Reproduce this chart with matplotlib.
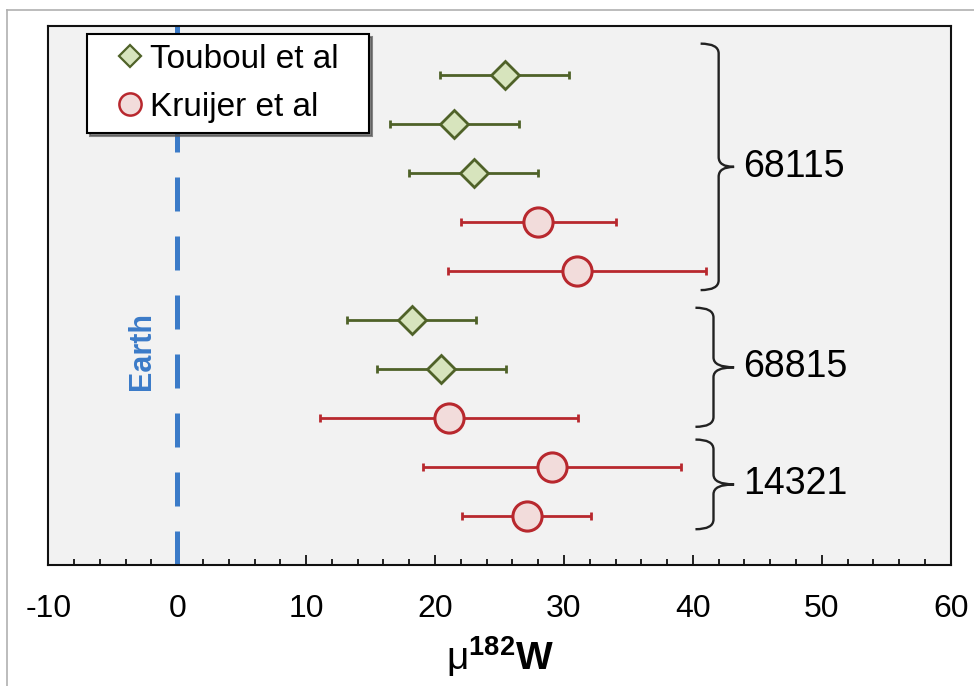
import matplotlib
matplotlib.use('Agg')
import matplotlib.pyplot as plt
from matplotlib.path import Path
from matplotlib.patches import PathPatch
from matplotlib.lines import Line2D

plt.rcParams['font.family'] = ['Liberation Sans', 'DejaVu Sans']
plt.rcParams['mathtext.fontset'] = 'custom'
plt.rcParams['mathtext.rm'] = 'Liberation Sans'
plt.rcParams['mathtext.it'] = 'Liberation Sans'
plt.rcParams['mathtext.bf'] = 'Liberation Sans:bold'
plt.rcParams['axes.unicode_minus'] = False

# 데이터
tou_rows = [1, 2, 3, 6, 7]
tou_vals = [25.4, 21.5, 23.0, 18.2, 20.5]
tou_err = [5.0, 5.0, 5.0, 5.0, 5.0]

kru_rows = [4, 5, 8, 9, 10]
kru_vals = [28.0, 31.0, 21.1, 29.1, 27.1]
kru_err = [6.0, 10.0, 10.0, 10.0, 5.0]

groups = ['68115', '68815', '14321']
group_spans = [(0.36, 5.39), (5.75, 8.18), (8.44, 10.27)]

earth_x = 0
xticks = [-10, 0, 10, 20, 30, 40, 50, 60]

green_edge = '#4f6228'
green_face = '#d7e4bd'
red_edge = '#b8282e'
red_face = '#f2dcdb'
blue = '#3b7bc8'

fig = plt.figure(figsize=(9.74, 6.86), dpi=100)
ax = fig.add_axes([48.3 / 974, 1 - 565 / 686, 902.4 / 974, 539 / 686])
ax.set_facecolor('#f2f2f2')

# 바깥 테두리
fig.add_artist(Line2D([7 / 974, 7 / 974], [0, 1 - 10 / 686], color='#b0b0b0', lw=1.2))
fig.add_artist(Line2D([7 / 974, 1], [1 - 10 / 686, 1 - 10 / 686], color='#b0b0b0', lw=1.2))

# Earth 선
ax.plot([earth_x, earth_x], [11, 0], color=blue, lw=3.6, linestyle=(0, (6.8, 5)), zorder=2)
ax.text(-2.7, 6.64, 'Earth', rotation=90, color=blue, fontsize=22, fontweight='bold',
        ha='center', va='center')

ax.errorbar(tou_vals, tou_rows, xerr=tou_err, fmt='none', ecolor=green_edge,
            elinewidth=2.0, capsize=3, capthick=2.0, zorder=3)
ax.plot(tou_vals, tou_rows, 'D', ms=14, mfc=green_face, mec=green_edge, mew=2.0, zorder=4)

ax.errorbar(kru_vals, kru_rows, xerr=kru_err, fmt='none', ecolor=red_edge,
            elinewidth=2.0, capsize=3, capthick=2.0, zorder=3)
ax.plot(kru_vals, kru_rows, 'o', ms=21, mfc=red_face, mec=red_edge, mew=2.2, zorder=4)


def brace(y0, y1, x_tip, x_sp, x_pt, ry):
    ym = (y0 + y1) / 2
    verts = [(x_tip, y0), (x_sp, y0), (x_sp, y0 + ry),
             (x_sp, ym - ry), (x_sp, ym), (x_pt, ym),
             (x_pt, ym), (x_sp, ym), (x_sp, ym + ry),
             (x_sp, y1 - ry), (x_sp, y1), (x_tip, y1)]
    codes = [Path.MOVETO, Path.CURVE3, Path.CURVE3,
             Path.LINETO, Path.CURVE3, Path.CURVE3,
             Path.MOVETO, Path.CURVE3, Path.CURVE3,
             Path.LINETO, Path.CURVE3, Path.CURVE3]
    ax.add_patch(PathPatch(Path(verts, codes), fill=False, lw=1.7, color='#222222', zorder=3))
    return ym


for i, (name, (y0, y1)) in enumerate(zip(groups, group_spans)):
    if i == 0:
        ym = brace(y0, y1, 40.6, 42.0, 43.2, 0.2)
    else:
        ym = brace(y0, y1, 40.2, 41.6, 43.2, 0.2)
    ax.text(43.9, ym, name, fontsize=27, ha='left', va='center')

ax.set_xlim(-10, 60)
ax.set_ylim(11, 0)
ax.set_xticks(xticks)
ax.set_xticks(range(-10, 61, 2), minor=True)
ax.set_yticks([])
ax.tick_params(axis='x', which='major', direction='in', length=7, width=1.2,
               labelsize=23, pad=21)
ax.tick_params(axis='x', which='minor', direction='in', length=4.5, width=1.2)
for s in ax.spines.values():
    s.set_linewidth(1.5)
    s.set_color('#111111')

ax.set_xlabel(r'$\mathrm{μ}^{\mathbf{182}}\mathbf{W}$', fontsize=28, labelpad=7)

handles = [
    Line2D([], [], marker='D', ls='none', ms=11, mfc=green_face, mec=green_edge, mew=1.6),
    Line2D([], [], marker='o', ls='none', ms=16, mfc=red_face, mec=red_edge, mew=1.8),
]
leg = ax.legend(handles, ['Touboul et al', 'Kruijer et al'], loc='upper left',
                bbox_to_anchor=(0.0429, 0.80, 0.3125, 0.185), mode='expand',
                fontsize=24, frameon=True,
                fancybox=False, shadow={'color': '#555555', 'alpha': 0.7},
                edgecolor='black', framealpha=1, borderpad=0.3,
                handletextpad=-0.41, handlelength=2.0, labelspacing=0.5,
                borderaxespad=0)
leg.get_frame().set_linewidth(1.5)
leg.set_zorder(10)

fig.savefig('out.png', dpi=100)
